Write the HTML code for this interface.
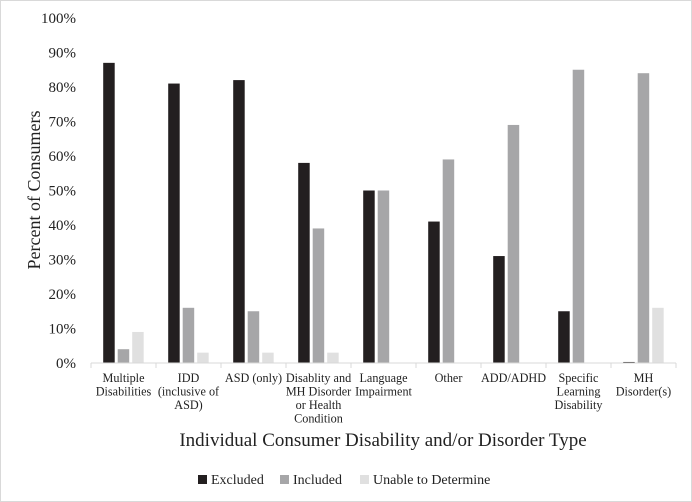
<!DOCTYPE html>
<html><head><meta charset="utf-8"><style>
body{margin:0;background:#fff}
svg{display:block;font-family:"Liberation Serif",serif}
</style></head><body>
<svg id="chart" width="692" height="502" viewBox="0 0 692 502">
<rect x="0.5" y="0.5" width="691" height="501" fill="#fff" stroke="#d9d9d9"/>
<g id="yticks"></g><g id="bars"></g><g id="xlabels"></g>
<line x1="91" y1="363" x2="676" y2="363" stroke="#d9d9d9" stroke-width="1"/>
<text x="40" y="190" font-size="18" text-anchor="middle" transform="rotate(-90 40 190)" fill="#222">Percent of Consumers</text>
<text x="383" y="446" font-size="19" text-anchor="middle" fill="#222">Individual Consumer Disability and/or Disorder Type</text>
<g font-size="14" fill="#222">
<g><rect x="198" y="475" width="9" height="9" fill="#231f20"/><text x="211" y="484">Excluded</text></g>
<g><rect x="280" y="475" width="9" height="9" fill="#a6a6a8"/><text x="293" y="484">Included</text></g>
<g><rect x="360" y="475" width="9" height="9" fill="#e0e0e0"/><text x="373" y="484">Unable to Determine</text></g>
</g>
</svg>
<script>
const categories=[["Multiple","Disabilities"],["IDD","(inclusive of","ASD)"],["ASD (only)"],["Disablity and","MH Disorder","or Health","Condition"],["Language","Impairment"],["Other"],["ADD/ADHD"],["Specific","Learning","Disability"],["MH","Disorder(s)"]];
const excluded=[87,81,82,58,50,41,31,15,0.3];
const included=[4,16,15,39,50,59,69,85,84];
const unable=[9,3,3,3,0,0,0,0,16];
const yTicks=[0,10,20,30,40,50,60,70,80,90,100];
const NS="http://www.w3.org/2000/svg";
const x0=91,x1=676,y0=363,y100=18;
const bw=(x1-x0)/categories.length;
const yS=v=>y0-(v/100)*(y0-y100);
const xS=i=>x0+i*bw;
function mk(t,a,p){const e=document.createElementNS(NS,t);for(const k in a)e.setAttribute(k,a[k]);p.appendChild(e);return e;}
const yt=document.getElementById('yticks');
yTicks.forEach(v=>{const t=mk('text',{x:76,y:yS(v)+5,'font-size':15,'text-anchor':'end',fill:'#222'},yt);t.textContent=v+'%';

});
const series=[[excluded,'#231f20','excluded'],[included,'#a6a6a8','included'],[unable,'#e0e0e0','unable']];
const bg=document.getElementById('bars'),xl=document.getElementById('xlabels');
categories.forEach((c,i)=>{
 const tk=mk('line',{x1:xS(i),x2:xS(i),y1:y0,y2:y0+5,stroke:'#d9d9d9'},xl);
 
 
 series.forEach((s,j)=>{const v=s[0][i];if(v<=0)return;
  const r=mk('rect',{x:xS(i)+12.2+j*14.5,y:yS(v),width:11.5,height:y0-yS(v),fill:s[1]},bg);
  
  });
 const t=mk('text',{x:xS(i)+bw/2,'font-size':12.2,'text-anchor':'middle',fill:'#222'},xl);
 
 
 c.forEach((ln,k)=>{const sp=mk('tspan',{x:xS(i)+bw/2,y:382+k*13.5},t);sp.textContent=ln;});
});
mk('line',{x1:x1,x2:x1,y1:y0,y2:y0+5,stroke:'#d9d9d9'},xl);
</script>
</body></html>
